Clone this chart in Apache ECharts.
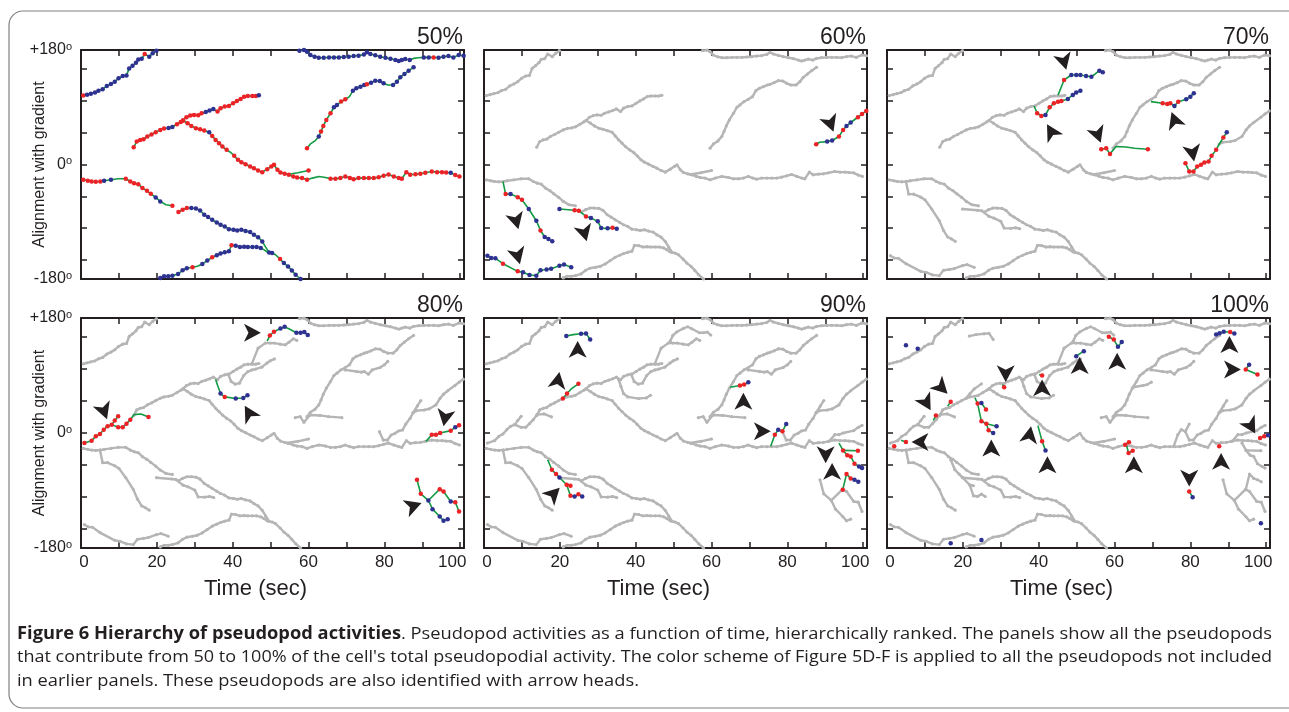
<!DOCTYPE html>
<html>
<head>
<meta charset="utf-8">
<script src="https://cdn.jsdelivr.net/npm/echarts@6/dist/echarts.min.js"></script>
<style>
  html, body { margin: 0; padding: 0; background: #fff; }
  #chart { width: 1289px; height: 712px; }
</style>
</head>
<body>
<div id="chart"></div>
<script>
// each point: [time (s), alignment (deg), dot: 0 none, 1 red, 2 blue]
// --- 50% pseudopods
const p50a = [[0.6,108.3,1],[1.6,109.8,2],[2.6,111.4,2],[3.7,113,2],[4.6,116.1,2],[5.7,118.2,2],[6.8,123.5,2],[7.9,126.6,2],[8.9,130.2,2],[9.9,135.5,2],[11,139.1,2],[12,140.1,2],[12.7,151.1,2],[13.6,155.3,2],[14.5,160,2],[15.1,165.2,2],[16,166.3,2],[16.8,173.6,1],[18,169.5,2],[18.9,174.7,2],[19.9,178.9,2]];
const p50b = [[57.6,178.9,2],[58.8,179.9,2],[59.6,177.3,2],[60.5,172,2],[61.6,169.4,2],[62.7,167.9,2],[64,167.9,2],[65.4,168.4,2],[66.7,168.4,2],[68,168.4,2],[69.3,169,2],[70.6,169.5,2],[71.9,170.5,2],[73.2,171.1,2],[74.6,173.1,2],[75.4,176.3,2],[76.3,173.7,2],[77.6,171.6,2],[78.9,169.5,2],[80.3,167.9,2],[81.6,166.3,2],[82.9,164.2,2],[83.8,162.7,2],[84.6,164.2,2],[85.5,165.8,2],[86.7,164.2,2],[87.7,166.8,0],[89,167.9,0],[90.4,168.4,2],[91.7,168.4,2],[93,168.4,1],[94.3,167.9,2],[95.6,169.5,2],[96.9,170.5,2],[98.2,168.4,2],[99.6,172.1,2],[100.9,171,2]];
const p50c = [[13.9,27.2,1],[14.7,36.1,1],[15.6,38.7,1],[16.5,39.8,1],[17.5,44,1],[18.6,47.1,1],[19.7,50.7,1],[20.9,54.4,1],[21.9,56.5,1],[23.1,57.5,2],[24.1,59.1,2],[25.3,63.3,1],[26.3,66.9,1],[26.9,69.1,1],[27.8,74.3,1],[28.8,76.9,1],[29.8,78,1],[30.9,77.4,1],[31.8,80.6,1],[32.9,82.7,2],[33.9,84.8,2],[34.9,87.4,2],[36,83.2,1],[36.8,88.5,1],[37.9,91.1,1],[39,92.1,1],[40.1,96.3,1],[41.1,99.9,1],[42.1,103.1,1],[43,106.7,1],[44,107.7,1],[45.2,107.7,1],[46.1,107.7,1],[46.9,108.8,2]];
const p50d = [[26.9,69.1,1],[28.1,64.9,1],[29.1,60.7,1],[30.3,57,1],[31.4,55.4,1],[32.5,53.3,1],[33.8,50.7,2],[34.6,45,1],[35.5,38.7,1],[36.4,33.5,1],[37.3,28.2,1],[38.4,23,1],[39.5,18.8,0],[40.4,13.6,1],[41.4,7.3,1],[42.3,3.7,1],[43.4,0.5,1],[44.6,-3.1,1],[45.6,-5.8,1],[46.7,-9.4,1],[47.8,-12,1],[49.1,-7.3,1],[50.2,-3.1,1],[50.9,-0.5,1],[51.8,-8.4,1],[52.6,-12.6,1],[53.7,-14.6,1],[54.8,-16.2,1],[56,-18.8,1],[57,-20.4,1],[58.3,-21.4,1],[59.6,-24.1,1],[61,-21.4,0],[62.7,-18.8,0],[64.5,-20.4,0],[65.8,-22.5,1],[67.1,-22.5,1],[68.4,-21.4,1],[69.7,-18.8,1],[70.9,-21.4,1],[71.9,-23,1],[73.2,-21.4,1],[74.6,-21.4,1],[75.9,-21.4,1],[77.2,-21.4,1],[78.5,-19.9,1],[79.8,-17.8,1],[81.1,-15.7,1],[82.5,-18.8,1],[83.8,-21.4,1],[84.6,-22.5,1],[85.8,-12,1],[86.8,-16.2,1],[88.2,-15.2,1],[89.5,-14.6,1],[90.8,-13.1,1],[92.5,-11,1],[93.9,-12,1],[95.2,-12,1],[96.3,-12.6,1],[97.5,-13.1,2],[98.7,-16.7,1],[99.8,-18.8,1]];
const p50e = [[54.4,-15.7,0],[57.2,-13,0],[60,-9.4,1]];
const p50f = [[59.6,25.6,1],[60.5,32.4,0],[61.7,37.1,0],[62.7,44,2],[63.3,51.8,1],[63.9,60.7,1],[64.7,70.1,1],[65.8,80.6,1],[66.7,90,2],[67.5,93.7,2],[68.6,99,1],[69.7,102.5,1],[70.8,106.7,0],[71.7,116.1,2],[72.6,119.8,2],[73.7,122.4,2],[74.7,125,2],[75.4,126.1,1],[76.5,128.7,2],[77.6,131.8,2],[78.8,131.3,2],[79.8,127.6,2],[80.9,125,0],[82.3,125,2],[83.3,130.2,2],[84.2,137,2],[85.3,142.3,2],[86.4,147.5,2],[87.7,152.7,2]];
const p50g = [[0.6,-24.1,1],[1.8,-25.6,1],[2.8,-26.7,1],[3.9,-27.2,1],[5.1,-26.7,1],[6.1,-25.6,2],[7.9,-24.1,2],[9.8,-22.5,0],[11.8,-22.5,1],[13,-26.7,1],[14,-29.3,1],[15.1,-30.9,1],[16.2,-37.1,1],[17.4,-41.3,1],[18.4,-46,1],[19.7,-51.8,2],[20.9,-58,2],[22.4,-63.3,0],[24.1,-64.9,1]];
const p50h = [[25.7,-74.7,1],[26.8,-71,1],[27.9,-68.5,1],[29.1,-68.5,2],[30.3,-69.1,2],[31.4,-72.2,2],[32.5,-79,2],[33.5,-82.7,2],[34.6,-86.9,2],[35.8,-91.1,2],[36.8,-94.7,2],[37.9,-97.4,2],[39,-101.6,2],[40.2,-102.6,2],[41.2,-103.7,2],[42.3,-102.6,2],[43.4,-104.7,2],[44.6,-106.3,2],[45.6,-110.5,2],[46.7,-114.2,2],[47.8,-121,2],[48.7,-129.9,0],[49.6,-138.2,2],[50.4,-139.3,2],[51.3,-141.9,0],[52.5,-148.7,1],[53.5,-155,2],[54.6,-160.2,2],[55.6,-166.5,2],[56.6,-173.3,2],[57.9,-180,2]];
const p50i = [[20.9,-178.3,2],[21.9,-175.7,2],[23,-175.7,2],[24.1,-174.7,2],[25.6,-172,2],[26.8,-166.3,2],[27.9,-163.1,2],[29.4,-161.6,1],[30.7,-160,0],[32,-156.3,2],[33.3,-151.1,2],[34.6,-145.8,1],[35.8,-142.7,2],[36.8,-140.1,2],[37.9,-138,2],[39,-136.4,2],[39.7,-127,1],[40.8,-127.6,2],[41.9,-129.7,2],[43,-129.2,2],[44,-129.7,2],[45.2,-129.7,2],[46.3,-129.7,2],[47.4,-131.2,2],[48.2,-133.9,0],[49.1,-137.5,0]];
// --- 60%
const p60a = [[87.6,31.9,1],[88.5,35,0],[90.5,36,2],[91.8,37.7,2],[93.6,44,1],[94.7,54.4,1],[95.6,60.7,2],[96.7,66,2],[98.6,74.3,1],[99.7,79.5,1],[100.8,84.2,1]];
const p60b = [[5,-26.7,0],[5.7,-46.5,1],[7,-46.5,2],[8.9,-51.3,1],[10,-55.4,1],[11.8,-70,2],[13.8,-88.4,2],[14.9,-103.6,1],[16,-114,2],[17,-117,2],[18,-120.8,2]];
const p60c = [[19.9,-70,2],[23.9,-72,1],[25,-72.7,1],[26.9,-81.6,1],[28.2,-84.2,2],[30,-89.4,2],[30.9,-100,2],[32.6,-100.4,2],[33.9,-99.4,1],[35,-101,2]];
const p60d = [[0.9,-143.3,2],[1.9,-147,2],[3,-147.5,2],[5,-155.9,1],[8.9,-168,1],[10.3,-169.5,2],[12,-173.6,2],[13.8,-174.7,2],[14.9,-166.3,2],[16.5,-165,2],[17.7,-163.7,2],[19.9,-159,2],[21.1,-157.4,2],[23,-161.6,2]];
// --- 70%
const p70a = [[45.1,109,0],[46.7,132.8,1],[48.6,140.7,2],[49.9,140.7,2],[51,140.7,2],[52.5,139,2],[53.9,138,2],[54.9,142.3,0],[56,147.5,2],[56.9,144.9,2]];
const p70b = [[38.8,92,0],[39.6,80.5,1],[40.7,76.4,1],[41.8,78,2],[42.9,90,1],[44,96.2,1],[45.1,98.8,1],[46,99.9,1],[47.7,103,2],[49,109.3,2],[49.9,113,2],[51,116,2]];
const p70c = [[56.5,24,1],[57.8,25.6,1],[58.8,16.7,1],[60.4,28.2,0],[63,27.5,0],[65.3,25.6,0],[68.8,24,1]];
const p70d = [[69.6,98.8,0],[72.7,96.2,1],[73.9,95.2,1],[74.7,96.2,1],[75.8,92,2],[76.8,98.8,1],[78.9,102.5,2],[80,106.7,2],[80.9,112,2]];
const p70e = [[78.7,2.1,1],[79.7,-11,1],[80.8,-11,1],[81.8,-3.1,1],[82.8,-0.5,1],[83.7,3.1,1],[84.8,4.7,1],[85.6,13.6,1],[86.8,23,1],[87.6,31.9,0],[88.7,42.4,1],[89.6,50.7,2]];
// --- 80%
const p80a = [[0.9,-15.7,1],[2.8,-12,1],[3.9,-5.2,1],[5,-1.6,1],[6,5.2,1],[7,10.5,1],[8.1,13.1,1],[9.8,8.9,1],[11,8.9,1],[12,14.6,1],[13,20.9,1],[14,28.8,0],[15.8,29.8,0],[17.8,25.1,1]];
const p80b = [[8.1,13.1,0],[8.9,19.4,1],[9.8,26.2,1]];
const p80c = [[35.5,83.7,0],[36.1,73.2,0],[36.8,61.7,2],[37.9,56.5,1],[40.8,53.9,2],[42.8,54.9,2],[43.9,59.1,2]];
const p80d = [[49.1,143.8,0],[49.8,152.7,1],[50.9,158.5,1],[52.6,163.7,2],[53.7,166.3,2],[54.8,163.2,0],[56.8,156.9,2],[57.9,156.9,2],[58.9,157.9,2],[59.8,153.2,2]];
const p80e = [[91,-13.1,0],[92.5,-2.6,1],[93.6,-2.6,1],[94.7,0,1],[97.5,3.7,1],[98.7,8.9,2],[99.7,12,1]];
const p80f = [[88.6,-73.2,1],[89.6,-95.2,1],[91.6,-105.6,2],[92.7,-119.2,2],[94.6,-130.7,2],[95.6,-137.5,2],[96.7,-134.9,2]];
const p80g = [[91.6,-105.6,0],[94.6,-87.9,1],[95.6,-91.5,1],[97.5,-107.2,2],[98.7,-108.3,1],[99.7,-122.9,1]];
// --- 90%
const p90a = [[21.7,151.7,2],[23.5,154,0],[25.6,155.3,2],[26.9,155.9,2],[28,146.4,2]];
const p90b = [[20.8,53.9,1],[21.9,61.7,1],[23,69,0],[24.9,76.9,1]];
const p90c = [[64.9,71.7,0],[67.5,74.3,1],[68.6,75.8,1],[69.7,79.5,2]];
const p90d = [[75.6,-20.9,0],[76.7,-2.6,1],[77.6,5.2,2],[78.7,2.6,1],[79.7,14.1,2]];
const p90e = [[16.8,-41.8,0],[17.9,-57.5,1],[19,-64.3,1],[19.9,-69.6,2],[21.8,-81.1,1],[22.8,-98.3,1],[23.9,-99.4,2],[24.9,-95.7,1],[25.9,-99.4,2]];
const p90f = [[21.8,-81.1,0],[22.8,-82.6,1]];
const p90g = [[93.6,-15.7,0],[94.7,-27.2,1],[95.8,-35,1],[96.7,-36.6,1],[97.7,-48.1,1],[98.9,-52.3,2],[99.7,-54.9,2]];
const p90h = [[94.7,-27.2,0],[98.6,-27.7,1]];
const p90i = [[94.6,-88.9,1],[95.6,-64.3,1],[96.7,-71.1,1],[97.7,-73.2,2],[98.7,-76.4,2]];
// --- 100%
const p100a = [[5,137.5,2]];
const p100b = [[8.1,131.8,2]];
const p100c = [[16,41.8,0],[16.8,49.1,1]];
const p100d = [[12.2,19.9,0],[12.9,27.2,1]];
const p100e = [[3.7,-11.5,0],[5,-14.1,1]];
const p100f = [[1.9,-20.9,1]];
const p100g = [[23.2,54.9,0],[23.9,46,1],[24.9,18.3,1],[26.2,14.6,1],[26.8,4.2,1],[28,0,2]];
const p100h = [[24.9,47,2],[26.1,36.6,1]];
const p100i = [[26.2,14.6,0],[28.9,10.5,2]];
const p100j = [[30.4,75.8,0],[30.9,71.7,1]];
const p100k = [[40.1,91.5,0],[40.9,90,1]];
const p100l = [[49.9,120.3,2],[51.9,128.1,2]];
const p100m = [[58.5,150.6,1],[59.8,146.4,1],[60.9,134.9,2],[61.9,142.3,2]];
const p100n = [[39.8,11.5,0],[40.9,-13.1,1],[41.8,-27.2,2]];
const p100o = [[62.8,-18.3,1],[63.8,-14.6,1]];
const p100p = [[63.2,-20,0],[63.7,-31.4,1],[64.8,-27.7,1]];
const p100q = [[86.8,154.3,2],[87.7,156,2],[88.8,158.5,2],[90.5,158,1],[91.6,155.9,2]];
const p100r = [[94.6,99.4,1],[95.5,106.7,2]];
const p100s = [[94.6,99.4,0],[97.7,91.5,1]];
const p100t = [[87.6,-20.9,1]];
const p100u = [[98.1,-11,0],[98.4,-7.8,1],[99.5,-5.2,1],[100.5,-3.7,2]];
const p100v = [[79.7,-91.5,1],[80.6,-100.4,2]];
const p100w = [[16.8,-172.6,2]];
const p100x = [[24.9,-167.4,2]];
const p100y = [[98.6,-141.2,2]];

const levels = [
  [p50a, p50b, p50c, p50d, p50e, p50f, p50g, p50h, p50i],
  [p60a, p60b, p60c, p60d],
  [p70a, p70b, p70c, p70d, p70e],
  [p80a, p80b, p80c, p80d, p80e, p80f, p80g],
  [p90a, p90b, p90c, p90d, p90e, p90f, p90g, p90h, p90i],
  [p100a, p100b, p100c, p100d, p100e, p100f, p100g, p100h, p100i, p100j, p100k, p100l, p100m,
   p100n, p100o, p100p, p100q, p100r, p100s, p100t, p100u, p100v, p100w, p100x, p100y]
];

// arrow heads: [time, alignment, pointing direction (deg clockwise from up)]
const arr60 = [[8.5,-89,165],[26.5,-108,165],[8.9,-144,165],[91.4,64,160]];
const arr70 = [[46.7,161.6,165],[43.3,51.8,330],[55.6,46.5,160],[75.8,70,340],[80.6,17.8,170]];
const arr80 = [[6.1,34,160],[45.2,157,90],[44.3,31.4,330],[96,23.5,190],[87.7,-114,70]];
const arr90 = [[24.7,130.8,0],[19.5,82.6,10],[68.4,49.7,0],[73.4,2.6,90],[90.1,-34,180],[91.8,-60,0],[18.4,-95,45]];
const arr100 = [[14.4,70.6,135],[10.4,47,150],[8.7,-14,270],[31.3,93,180],[40.9,70.6,0],[50.8,105.6,0],
  [60.7,112.4,0],[90.3,138.6,0],[91.1,99.4,90],[37.6,-2.6,10],[27.5,-23.5,0],[42.3,-49.7,0],
  [65.1,-49.7,0],[88.1,-44.5,0],[79.7,-70.6,180],[96,10.5,150]];
const arrows = [[], arr60, arr70, arr80, arr90, arr100];

const panelNames = ['50%', '60%', '70%', '80%', '90%', '100%'];
const xLabelValues = [0, 20, 40, 60, 80, 100];
const yLabelValues = [-180, 0, 180];
const yTickValues = [-150, -100, -50, 0, 50, 100, 150];

const caption1b = 'Figure 6 Hierarchy of pseudopod activities';
const caption1 = '. Pseudopod activities as a function of time, hierarchically ranked. The panels show all the pseudopods';
const caption2 = "that contribute from 50 to 100% of the cell's total pseudopodial activity. The color scheme of Figure 5D-F is applied to all the pseudopods not included";
const caption3 = 'in earlier panels. These pseudopods are also identified with arrow heads.';

const INK = '#231f20';
const RED = '#ec2227', BLUE = '#2e3192', GREEN = '#139a43', GRAY = '#b5b5b5';

const grids = [
  { left: 81, top: 50, width: 383, height: 229 },
  { left: 484, top: 50, width: 383, height: 229 },
  { left: 887, top: 50, width: 383, height: 229 },
  { left: 81, top: 318, width: 383, height: 230 },
  { left: 484, top: 318, width: 383, height: 230 },
  { left: 887, top: 318, width: 383, height: 230 }
];

const chart = echarts.init(document.getElementById('chart'));

const xAxes = [], yAxes = [], series = [], graphics = [];
const frameLine = { show: true, onZero: false, lineStyle: { color: INK, width: 2 } };
const tick = { show: true, inside: true, length: 6, lineStyle: { color: INK, width: 1.5 } };
const labelFont = { color: INK, fontFamily: 'Liberation Sans' };

grids.forEach((g, i) => {
  const bottomRow = i >= 3, leftCol = i % 3 === 0;
  xAxes.push({
    gridIndex: i, type: 'value', min: 0, max: 101, interval: 10, position: 'bottom',
    axisLine: frameLine, axisTick: tick, splitLine: { show: false },
    axisLabel: {
      show: bottomRow, margin: 6, customValues: xLabelValues,
      formatter: v => v === 0 ? '{l|0}' : v === 100 ? '{r|100}' : '{m|' + v + '}',
      rich: {
        m: Object.assign({ fontSize: 17 }, labelFont),
        l: Object.assign({ fontSize: 17, padding: [0, 0, 0, 6] }, labelFont),
        r: Object.assign({ fontSize: 17, padding: [0, 16, 0, 0] }, labelFont)
      }
    }
  });
  xAxes.push({
    gridIndex: i, type: 'value', min: 0, max: 101, interval: 10, position: 'top',
    axisLine: frameLine, axisTick: tick, splitLine: { show: false }, axisLabel: { show: false }
  });
  yAxes.push({
    gridIndex: i, type: 'value', min: -180, max: 180, position: 'left',
    axisLine: frameLine, splitLine: { show: false },
    axisTick: Object.assign({ customValues: yTickValues }, tick),
    axisLabel: {
      show: leftCol, customValues: yLabelValues, margin: 9,
      formatter: v => '{n|' + (v > 0 ? '+' : '') + v + '}{o|o}',
      rich: {
        n: Object.assign({ fontSize: 16, lineHeight: 18 }, labelFont),
        o: Object.assign({ fontSize: 11, lineHeight: 11, verticalAlign: 'top' }, labelFont)
      }
    },
    name: leftCol ? 'Alignment with gradient' : '', nameLocation: 'middle', nameGap: 33,
    nameMoveOverlap: false,
    nameTextStyle: Object.assign({ fontSize: 16 }, labelFont)
  });
  yAxes.push({
    gridIndex: i, type: 'value', min: -180, max: 180, position: 'right',
    axisLine: frameLine, splitLine: { show: false },
    axisTick: Object.assign({ customValues: yTickValues }, tick),
    axisLabel: { show: false }
  });

  const xi = i * 2, yi = i * 2;
  // earlier levels in gray
  for (let l = 0; l < i; l++) {
    levels[l].forEach(path => {
      series.push({
        type: 'line', xAxisIndex: xi, yAxisIndex: yi, silent: true, z: 2,
        data: path.map(p => [p[0], p[1]]),
        symbol: 'circle', symbolSize: 3.2, itemStyle: { color: GRAY },
        lineStyle: { color: GRAY, width: 2.4 }
      });
    });
  }
  // this level's pseudopods in colour
  levels[i].forEach(path => {
    series.push({
      type: 'line', xAxisIndex: xi, yAxisIndex: yi, silent: true, z: 3,
      data: path.map(p => ({
        value: [p[0], p[1]],
        symbol: p[2] ? 'circle' : 'none',
        itemStyle: { color: p[2] === 1 ? RED : BLUE }
      })),
      symbolSize: 4.5, lineStyle: { color: GREEN, width: 1.6 }
    });
  });
  if (arrows[i].length) {
    series.push({
      type: 'scatter', xAxisIndex: xi, yAxisIndex: yi, silent: true, z: 4,
      symbol: 'path://M8,0 L16,15 L8,11 L0,15 Z', symbolSize: [18, 18], symbolKeepAspect: true,
      itemStyle: { color: INK, opacity: 1 },
      data: arrows[i].map(a => ({ value: [a[0], a[1]], symbolRotate: -a[2] }))
    });
  }

  graphics.push({
    type: 'text', x: g.left + g.width - 1, y: g.top - 12,
    style: { text: panelNames[i], fill: INK, font: '23px "Liberation Sans"', textAlign: 'right', textVerticalAlign: 'middle' }
  });
  if (bottomRow) {
    graphics.push({
      type: 'text', x: g.left + g.width / 2 - 17, y: g.top + g.height + 41,
      style: { text: 'Time (sec)', fill: INK, font: '22px "Liberation Sans"', textAlign: 'center', textVerticalAlign: 'middle' }
    });
  }
});

// caption, condensed to the width of the original block
const ctx = document.createElement('canvas').getContext('2d');
const capFont = '17px "Open Sans"', capBold = 'bold 17px "Open Sans"';
ctx.font = capBold; const wb = ctx.measureText(caption1b).width;
ctx.font = capFont; const w1 = ctx.measureText(caption1).width, w2 = ctx.measureText(caption2).width;
const s1 = 1255 / (wb + w1), s2 = 1255 / w2;
const capRich = { b: { font: capBold, fill: INK }, n: { font: capFont, fill: INK } };
graphics.push(
  { type: 'text', x: 17, y: 634, scaleX: s1, style: { text: '{b|' + caption1b + '}{n|' + caption1 + '}', rich: capRich, textVerticalAlign: 'middle' } },
  { type: 'text', x: 17, y: 657, scaleX: s2, style: { text: caption2, font: capFont, fill: INK, textVerticalAlign: 'middle' } },
  { type: 'text', x: 17, y: 681, scaleX: s1, style: { text: caption3, font: capFont, fill: INK, textVerticalAlign: 'middle' } },
  { type: 'rect', shape: { x: 9, y: 11, width: 1300, height: 697, r: 14 }, style: { fill: 'none', stroke: '#808080', lineWidth: 1.2 }, silent: true }
);

chart.setOption({
  animation: false,
  backgroundColor: '#fff',
  grid: grids,
  xAxis: xAxes,
  yAxis: yAxes,
  series: series,
  graphic: graphics
});
</script>
</body>
</html>
